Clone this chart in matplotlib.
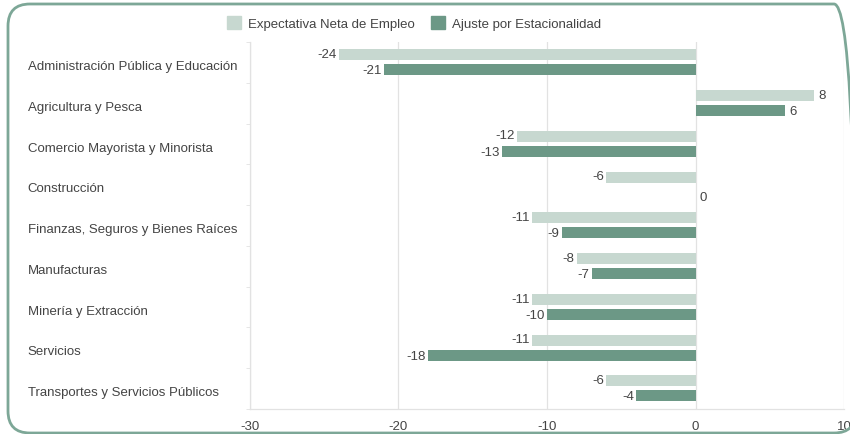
import numpy as np
import matplotlib.pyplot as plt
from matplotlib.patches import FancyBboxPatch, Patch

plt.rcParams['font.family'] = ['Liberation Sans', 'DejaVu Sans']

categories = [
    'Administración Pública y Educación',
    'Agricultura y Pesca',
    'Comercio Mayorista y Minorista',
    'Construcción',
    'Finanzas, Seguros y Bienes Raíces',
    'Manufacturas',
    'Minería y Extracción',
    'Servicios',
    'Transportes y Servicios Públicos',
]
expectativa = [-24, 8, -12, -6, -11, -8, -11, -11, -6]
ajuste = [-21, 6, -13, 0, -9, -7, -10, -18, -4]
series_names = ['Expectativa Neta de Empleo', 'Ajuste por Estacionalidad']
x_ticks = [-30, -20, -10, 0, 10]

light = '#c7d8d0'
dark = '#6c9886'
text_col = '#444444'
grid_col = '#e2e2e2'

fig = plt.figure(figsize=(8.5, 4.35), dpi=100)
ax = fig.add_axes([0.294, 0.0575, 0.699, 0.8435])

y = np.arange(len(categories))
h = 0.27
ax.barh(y - 0.19, expectativa, height=h, color=light, zorder=3)
ax.barh(y + 0.18, ajuste, height=h, color=dark, zorder=3)

# value labels next to the end of each bar
for yy, vals in ((y - 0.21, expectativa), (y + 0.19, ajuste)):
    for yi, v in zip(yy, vals):
        if v < 0:
            ax.text(v - 0.15, yi, str(v), ha='right', va='center',
                    fontsize=9.5, color=text_col)
        else:
            ax.text(v + 0.3, yi + (0.12 if v == 0 else 0), str(v), ha='left',
                    va='center', fontsize=9.5, color=text_col)

ax.set_xlim(-30, 10)
ax.set_ylim(len(categories) - 0.5, -0.5)
ax.set_xticks(x_ticks)
ax.set_xticklabels([str(t) for t in x_ticks], fontsize=9.5, color=text_col)
ax.tick_params(axis='x', length=0, pad=8)

ax.set_yticks(y + 0.05)
ax.set_yticklabels(categories, fontsize=9.5, color=text_col, ha='left')
ax.tick_params(axis='y', length=0, pad=160)
ax.set_yticks(np.arange(-0.5, len(categories), 1), minor=True)
ax.tick_params(axis='y', which='minor', length=3, color=grid_col)

ax.grid(axis='x', color=grid_col, linewidth=0.9, zorder=0)
for s in ['top', 'right']:
    ax.spines[s].set_visible(False)
for s in ['left', 'bottom']:
    ax.spines[s].set_color(grid_col)
    ax.spines[s].set_linewidth(0.9)

handles = [Patch(color=light), Patch(color=dark)]
fig.legend(handles, series_names, loc='center', bbox_to_anchor=(0.487, 0.945),
           ncol=2, frameon=False, fontsize=9.5, handlelength=1.1, handleheight=1.1,
           handletextpad=0.5, columnspacing=1.2, labelcolor=text_col)

# rounded frame around the chart, running off the right edge
frame = FancyBboxPatch((8, 1), 848, 429, boxstyle='round,pad=0,rounding_size=22',
                       transform=None, fill=False, edgecolor='#7da797',
                       linewidth=2, zorder=10)
fig.patches.append(frame)

fig.savefig('out.png', dpi=100)
